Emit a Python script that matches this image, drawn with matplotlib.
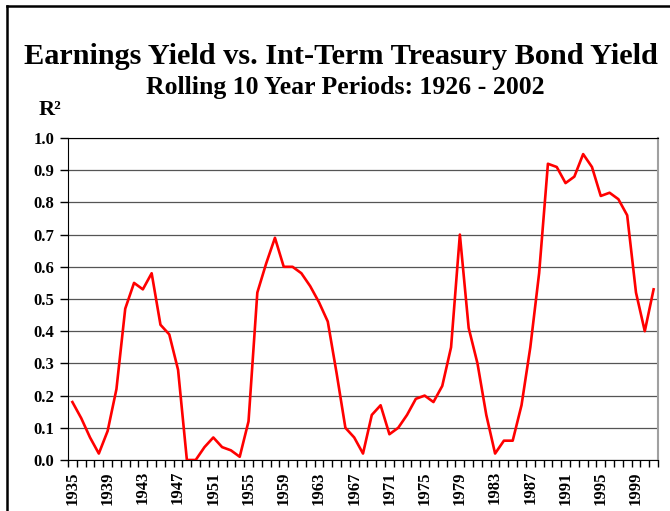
import matplotlib.pyplot as plt
from matplotlib.lines import Line2D
from matplotlib.ticker import MultipleLocator, FixedLocator

plt.rcParams['font.family'] = ['Liberation Serif', 'DejaVu Serif']
plt.rcParams['font.weight'] = 'bold'

# Rolling 10-year R^2, period ending in each year
years = list(range(1935, 2002))
r_squared = [
    0.18, 0.13, 0.07, 0.02, 0.09, 0.22, 0.47, 0.55, 0.53, 0.58,   # 1935-1944
    0.42, 0.39, 0.28, 0.00, 0.00, 0.04, 0.07, 0.04, 0.03, 0.01,   # 1945-1954
    0.12, 0.52, 0.61, 0.69, 0.60, 0.60, 0.58, 0.54, 0.49, 0.43,   # 1955-1964
    0.27, 0.10, 0.07, 0.02, 0.14, 0.17, 0.08, 0.10, 0.14, 0.19,   # 1965-1974
    0.20, 0.18, 0.23, 0.35, 0.70, 0.41, 0.30, 0.14, 0.02, 0.06,   # 1975-1984
    0.06, 0.17, 0.35, 0.58, 0.92, 0.91, 0.86, 0.88, 0.95, 0.91,   # 1985-1994
    0.82, 0.83, 0.81, 0.76, 0.52, 0.40, 0.53,                     # 1995-2001
]

fig = plt.figure(figsize=(6.7, 5.11), dpi=100)
ax = fig.add_axes([68 / 670, 51 / 511, 590 / 670, 322 / 511])

x = list(range(len(years)))
ax.plot(x, r_squared, color='#ff0000', lw=1.9, zorder=3)

# Axes
ax.set_xlim(-0.5, len(years) - 0.5)
ax.set_ylim(0, 1.0)
ax.yaxis.set_major_locator(MultipleLocator(0.1))
ax.yaxis.set_major_formatter(plt.FuncFormatter(lambda v, p: f'{v:.1f}'))
ax.grid(axis='y', color='#555555', lw=0.9)
ax.set_axisbelow(True)

label_pos = x[::4]
ax.set_xticks(label_pos)
ax.set_xticklabels([str(years[i]) for i in label_pos], rotation=90, fontsize=12, fontweight='bold')
ax.xaxis.set_minor_locator(FixedLocator([i - 0.5 for i in range(len(years) + 1)]))
ax.tick_params(axis='x', which='major', length=0, pad=8)
ax.tick_params(axis='x', which='minor', length=5, width=1, direction='out')
ax.tick_params(axis='y', length=6, width=1, labelsize=12, pad=4)
for lab in ax.get_yticklabels():
    lab.set_fontweight('bold')

ax.spines['left'].set_color('black')
ax.spines['bottom'].set_color('black')
ax.spines['top'].set_color('black')
ax.spines['right'].set_color('#a0a0a0')
ax.spines['right'].set_linewidth(1.5)

# Titles
fig.text(0.509, 1 - 56 / 511, 'Earnings Yield vs. Int-Term Treasury Bond Yield',
         ha='center', va='center', fontsize=21.8, fontweight='bold')
fig.text(0.516, 1 - 87 / 511, 'Rolling 10 Year Periods: 1926 - 2002',
         ha='center', va='center', fontsize=18.5, fontweight='bold')
fig.text(39 / 670, 1 - 110 / 511, 'R²', ha='left', va='center',
         fontsize=16, fontweight='bold')

# Outer frame (left and top edges visible)
fig.add_artist(Line2D([7 / 670, 7 / 670], [0, 1 - 6 / 511], color='black', lw=1.8))
fig.add_artist(Line2D([7 / 670, 1], [1 - 6 / 511, 1 - 6 / 511], color='black', lw=1.8))

plt.savefig('out.png', dpi=100)
